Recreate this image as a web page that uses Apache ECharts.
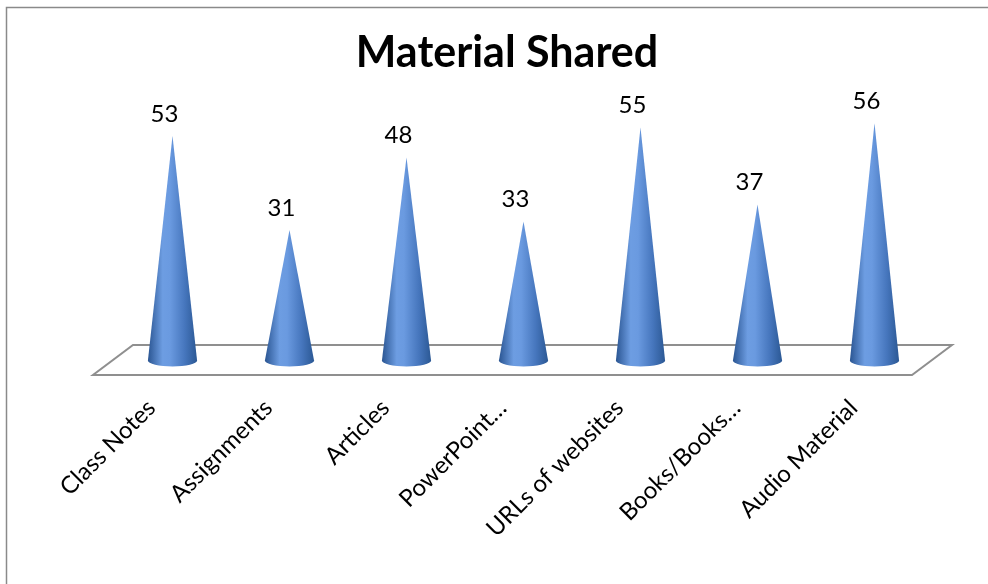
<!DOCTYPE html>
<html>
<head>
<meta charset="utf-8">
<script src="https://cdn.jsdelivr.net/npm/echarts@6/dist/echarts.min.js"></script>
<style>
  html, body { margin: 0; padding: 0; background: #fff; }
  #chart { width: 988px; height: 584px; }
</style>
</head>
<body>
<div id="chart"></div>
<script>
// ---- data ----
var titleText = 'Material Shared';
var categories = ['Class Notes', 'Assignments', 'Articles', 'PowerPoint\u2026', 'URLs of websites', 'Books/Books\u2026', 'Audio Material'];
var values = [53, 31, 48, 33, 55, 37, 56];

// ---- style constants (3D look) ----
var DEPTH_X = 40, DEPTH_Y = -30;      // floor depth vector
var CONE_DX = 21, CONE_DY = -12.6;    // cone base offset from front edge
var FONT = 'Lato, "Liberation Sans", sans-serif';

var chart = echarts.init(document.getElementById('chart'), null, { renderer: 'canvas' });

var coneGradient = new echarts.graphic.LinearGradient(0, 0, 1, 0, [
  { offset: 0, color: '#2a5592' },
  { offset: 0.3, color: '#6d9de2' },
  { offset: 0.45, color: '#6a9ae0' },
  { offset: 0.75, color: '#4676bd' },
  { offset: 1, color: '#2b5894' }
]);

var option = {
  backgroundColor: '#ffffff',
  animation: false,
  title: {
    text: titleText,
    left: 502,
    top: 27,
    textAlign: 'center',
    textStyle: { fontFamily: FONT, fontWeight: 'bold', fontSize: 43, color: '#000' }
  },
  graphic: [{
    type: 'rect',
    shape: { x: 6.5, y: 7.5, width: 1000, height: 600 },
    style: { fill: 'none', stroke: '#8a8a8a', lineWidth: 1.5 },
    silent: true
  }],
  grid: { left: 93, right: 76, top: 118.8, bottom: 209, containLabel: false },
  xAxis: {
    type: 'category',
    data: categories,
    axisLine: { show: false },
    axisTick: { show: false },
    splitLine: { show: false },
    axisLabel: {
      interval: 0,
      rotate: 45,
      margin: 29,
      fontFamily: FONT,
      fontSize: 24,
      color: '#000'
    }
  },
  yAxis: { type: 'value', min: 0, max: 60, show: false },
  series: [
    {
      type: 'custom',
      name: 'floor',
      silent: true,
      data: [[0, 0]],
      z: 1,
      renderItem: function (params) {
        var cs = params.coordSys;
        var x0 = cs.x, x1 = cs.x + cs.width, y = cs.y + cs.height;
        return {
          type: 'polygon',
          shape: { points: [[x0, y], [x1, y], [x1 + DEPTH_X, y + DEPTH_Y], [x0 + DEPTH_X, y + DEPTH_Y]] },
          style: { fill: '#ffffff', stroke: '#8f8f8f', lineWidth: 2 }
        };
      }
    },
    {
      type: 'custom',
      name: 'Material Shared',
      z: 2,
      data: categories.map(function (c, i) { return [i, values[i]]; }),
      renderItem: function (params, api) {
        var i = api.value(0), v = api.value(1);
        var base = api.coord([i, 0]);
        var tip = api.coord([i, v]);
        var bw = api.size([1, 0])[0];
        var rx = bw * 0.21, ry = 6;
        var cx = base[0] + CONE_DX, by = base[1] + CONE_DY - 2;
        var tx = tip[0] + CONE_DX, ty = tip[1] + CONE_DY;
        var path = 'M' + (cx - rx) + ' ' + by +
          ' L' + tx + ' ' + ty +
          ' L' + (cx + rx) + ' ' + by +
          ' A' + rx + ' ' + ry + ' 0 0 1 ' + (cx - rx) + ' ' + by + ' Z';
        return {
          type: 'group',
          children: [
            {
              type: 'path',
              shape: { pathData: path },
              style: { fill: coneGradient, stroke: null }
            },
            {
              type: 'text',
              style: {
                text: String(v),
                x: tx - 8,
                y: ty - 22,
                align: 'center',
                verticalAlign: 'middle',
                fontFamily: FONT,
                fontSize: 24,
                fill: '#000'
              }
            }
          ]
        };
      }
    }
  ]
};
chart.setOption(option);
</script>
</body>
</html>
